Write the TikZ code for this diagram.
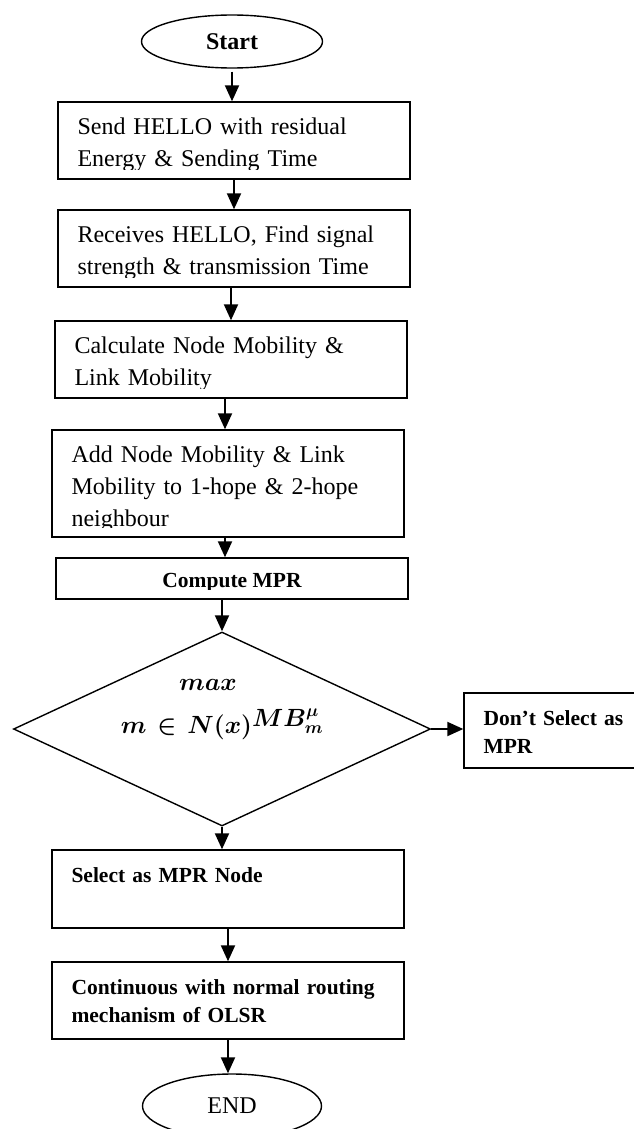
\documentclass[tikz,border=0pt]{standalone}
\usepackage{fontspec}
\setmainfont{Liberation Serif}
\usetikzlibrary{shapes.geometric,arrows.meta}
\def\boxlabel[#1](#2)#3{\begin{scope}\clip (#2.north west) rectangle ([yshift=10pt]#2.south east);\node[#1, anchor=base west] (#2txt) at ([shift={(20pt,-33pt)}]#2.north west) {#3};\end{scope}}

\begin{document}
\begin{tikzpicture}[x=1pt, y=-1pt,
	procbox/.style={draw, line width=1.4pt, inner sep=0pt, minimum width=352pt},
	terminal/.style={draw, ellipse, line width=1.4pt, inner sep=0pt, minimum width=181pt, minimum height=53pt, font=\fontsize{24}{32}\selectfont},
	decision/.style={draw, diamond, line width=1.4pt, inner sep=0pt, minimum width=417pt, minimum height=194pt},
	flow/.style={line width=2pt, -{Triangle[length=16pt, width=14pt]}},
	plain/.style={inner sep=0pt, text width=330pt, align=left, font=\fontsize{24}{32}\selectfont},
	strong/.style={inner sep=0pt, text width=330pt, align=left, font=\fontsize{21.5}{28.5}\selectfont\bfseries}]
		%%%%% START %%%%%
		\useasboundingbox (0,0) rectangle (633,1129);
		
		\node[terminal, font=\fontsize{24}{32}\selectfont\bfseries] (start) at (232,41.5) {Start};
		
		\node[procbox, minimum height=77pt] (send) at (234,140.5) {};
		\node[procbox, minimum height=77pt] (recv) at (234,248.5) {};
		\node[procbox, minimum height=77pt] (calc) at (231,359.5) {};
		\node[procbox, minimum height=107pt] (add) at (228,483.5) {};
		\node[procbox, minimum height=41pt] (compute) at (232,578.5) {};
		
		\node[decision] (check) at (222,729) {};
		\node[procbox, minimum width=186pt, minimum height=75pt] (dont) at (557,730.5) {};
		
		\node[procbox, minimum height=78pt] (select) at (228,889) {};
		\node[procbox, minimum height=77pt] (cont) at (228,1000.5) {};
		
		\node[terminal, minimum width=179pt, minimum height=64pt] (stop) at (232,1106) {END};
		
		\boxlabel[plain](send){Send HELLO with residual\\Energy \& Sending Time}
		\boxlabel[plain](recv){Receives HELLO, Find signal\\strength \& transmission Time}
		\boxlabel[plain](calc){Calculate Node Mobility \&\\Link Mobility}
		\boxlabel[plain](add){Add Node Mobility \& Link\\Mobility to 1-hope \& 2-hope\\neighbour}
		\begin{scope}
			\clip (compute.north west) rectangle ([yshift=10pt]compute.south east);
			\node[inner sep=0pt, anchor=base, font=\fontsize{21.5}{28.5}\selectfont\bfseries] (computetxt) at ([yshift=-30pt]compute.north) {Compute MPR};
		\end{scope}
		
		\node[inner sep=0pt, text width=240pt, align=center, anchor=base, font=\fontsize{25}{43}\selectfont\boldmath] (checktxt) at (222,690) {$max\kern28pt$\\$m\in N(x)$\raisebox{7pt}{$MB^{\mu}_{m}$}};
		
		\boxlabel[strong](dont){Don’t Select as\\MPR}
		\boxlabel[strong](select){Select as MPR Node}
		\boxlabel[strong](cont){Continuous with normal routing\\mechanism of OLSR}
		
		\draw[flow] ([yshift=-3pt]start.south) -- (start.south |- send.north);
		\draw[flow] (send.south) -- (send.south |- recv.north);
		\draw[flow] (calc.north |- recv.south) -- (calc.north);
		\draw[flow] ([xshift=-6pt]calc.south) -- ([xshift=-3pt]add.north);
		\draw[flow] ([xshift=-3pt]add.south) -- ([xshift=-7pt]compute.north);
		\draw[flow] (check.north |- compute.south) -- (check.north);
		\draw[flow] (check.east) -- (check.east -| dont.west);
		\draw[flow] (check.south) -- (check.south |- select.north);
		\draw[flow] (select.south) -- (cont.north);
		\draw[flow] (cont.south) -- (cont.south |- stop.north);
		
		%%%%% END %%%%%
	\end{tikzpicture}
\end{document}
